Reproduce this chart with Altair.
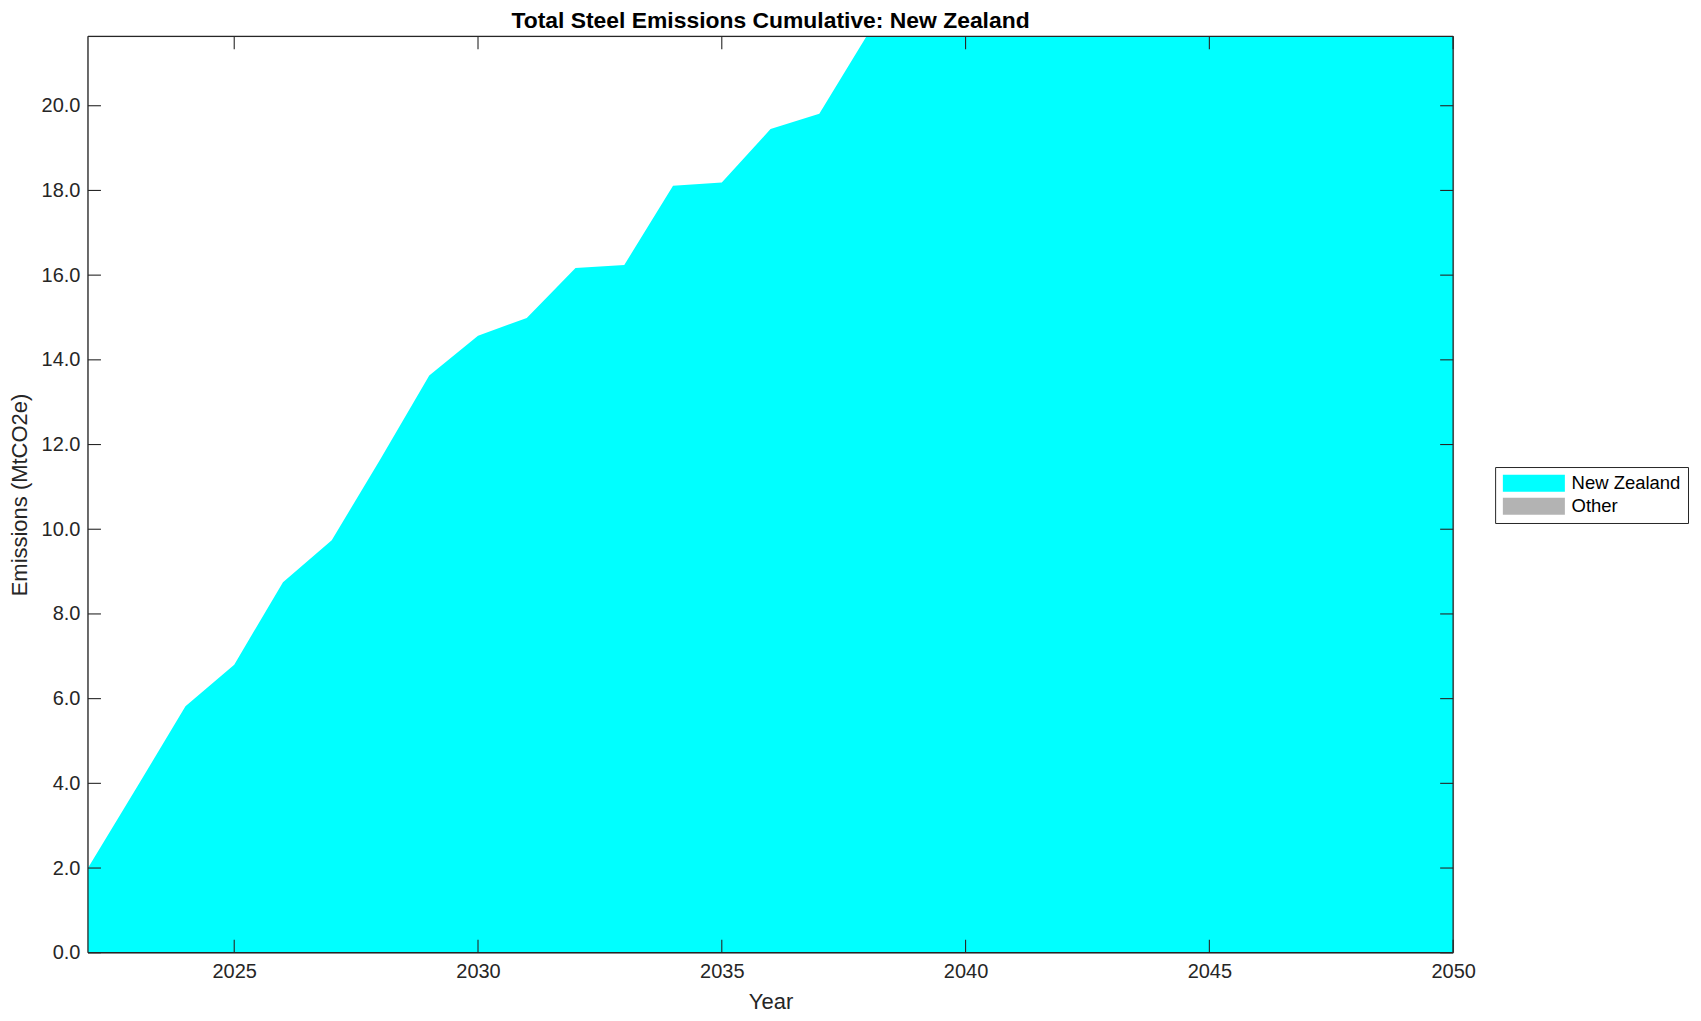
import altair as alt
import pandas as pd

# ---- data ----
years = list(range(2022, 2051))
new_zealand = [2.0, 3.9, 5.82, 6.80, 8.75, 9.74, 11.66, 13.63, 14.57, 14.99,
               16.17, 16.24, 18.11, 18.19, 19.45, 19.81, 21.7, 22.9, 23.6, 25.1,
               25.9, 27.2, 27.8, 29.3, 30.0, 31.4, 31.9, 33.3, 34.0]
series_names = ["New Zealand", "Other"]
series_colors = ["#00ffff", "#b3b3b3"]
x_ticks = [2025, 2030, 2035, 2040, 2045, 2050]
y_ticks = [0, 2, 4, 6, 8, 10, 12, 14, 16, 18, 20]
x_domain = [2022, 2050]
y_domain = [0, 21.64]

W, H = 1366, 917
TICK = 13
FONT = "Liberation Sans"
AX = "#262626"

df = pd.DataFrame({"Year": years, "Emissions": new_zealand,
                   "Region": ["New Zealand"] * len(years)})
xt_df = pd.DataFrame({"Year": x_ticks})
yt_df = pd.DataFrame({"Emissions": y_ticks})
one = alt.Data(values=[{"k": 1}])

xs = alt.Scale(domain=x_domain, nice=False, zero=False)
ys = alt.Scale(domain=y_domain, nice=False, zero=False)

x_axis = alt.Axis(values=x_ticks, format="d", ticks=False, domain=False, grid=False,
                  labelFontSize=20, labelColor=AX, labelFont=FONT, labelPadding=9,
                  labelFlush=False, labelOverlap=False,
                  title="Year", titleFontSize=22, titleFontWeight="normal",
                  titleColor=AX, titleFont=FONT, titlePadding=9.5)
y_axis = alt.Axis(values=y_ticks, format=".1f", ticks=False, domain=False, grid=False,
                  labelFontSize=20, labelColor=AX, labelFont=FONT, labelPadding=8,
                  labelFlush=False, labelOverlap=False,
                  title="Emissions (MtCO2e)", titleFontSize=22, titleFontWeight="normal",
                  titleColor=AX, titleFont=FONT, titlePadding=10)

X = lambda: alt.X("Year:Q", scale=xs, axis=x_axis, title="Year")
Y = lambda: alt.Y("Emissions:Q", scale=ys, axis=y_axis, title="Emissions (MtCO2e)")

# wide flat swatch: 17px tall (sqrt(size)), about 62px wide, starting at the entry's left edge
SW = 17
swatch = "M-1,-1H6.3V1H-1Z"

area = alt.Chart(df).mark_area(clip=True, opacity=1, interpolate="linear").encode(
    x=X(), y=Y(),
    color=alt.Color("Region:N",
                    scale=alt.Scale(domain=series_names, range=series_colors),
                    legend=alt.Legend(title=None, orient="none", legendX=1408, legendY=431,
                                      direction="vertical",
                                      symbolType=swatch, symbolSize=SW * SW,
                                      symbolStrokeWidth=0, symbolOpacity=1,
                                      labelFontSize=18.5, labelFont=FONT, labelColor="black",
                                      labelOffset=51, strokeColor=AX, fillColor="white",
                                      padding=7, rowPadding=4, cornerRadius=0)),
)

rule = dict(color=AX, strokeWidth=1.1)
bottom_ticks = alt.Chart(xt_df).mark_rule(**rule).encode(
    x=X(), y=alt.value(H), y2=alt.value(H - TICK))
top_ticks = alt.Chart(xt_df).mark_rule(**rule).encode(
    x=X(), y=alt.value(0), y2=alt.value(TICK))
left_ticks = alt.Chart(yt_df).mark_rule(**rule).encode(
    y=Y(), x=alt.value(0), x2=alt.value(TICK))
right_ticks = alt.Chart(yt_df).mark_rule(**rule).encode(
    y=Y(), x=alt.value(W), x2=alt.value(W - TICK))

bstyle = dict(color=AX, strokeWidth=1.3)
b_left = alt.Chart(one).mark_rule(**bstyle).encode(x=alt.value(0), y=alt.value(0), y2=alt.value(H))
b_right = alt.Chart(one).mark_rule(**bstyle).encode(x=alt.value(W), y=alt.value(0), y2=alt.value(H))
b_top = alt.Chart(one).mark_rule(**bstyle).encode(y=alt.value(0), x=alt.value(0), x2=alt.value(W))
b_bot = alt.Chart(one).mark_rule(**bstyle).encode(y=alt.value(H), x=alt.value(0), x2=alt.value(W))

chart = alt.layer(area, bottom_ticks, top_ticks, left_ticks, right_ticks,
                  b_left, b_right, b_top, b_bot).properties(
    width=W, height=H,
    title=alt.TitleParams("Total Steel Emissions Cumulative: New Zealand",
                          fontSize=22.9, fontWeight="bold", font=FONT, color="black",
                          anchor="middle", offset=2.5),
    autosize=alt.AutoSizeParams(type="none"),
    padding={"left": 80, "top": 28, "right": 240, "bottom": 64},
).configure_view(stroke=None).configure(background="white")

chart.save("out.html", embed_options={"renderer": "svg", "actions": False})
